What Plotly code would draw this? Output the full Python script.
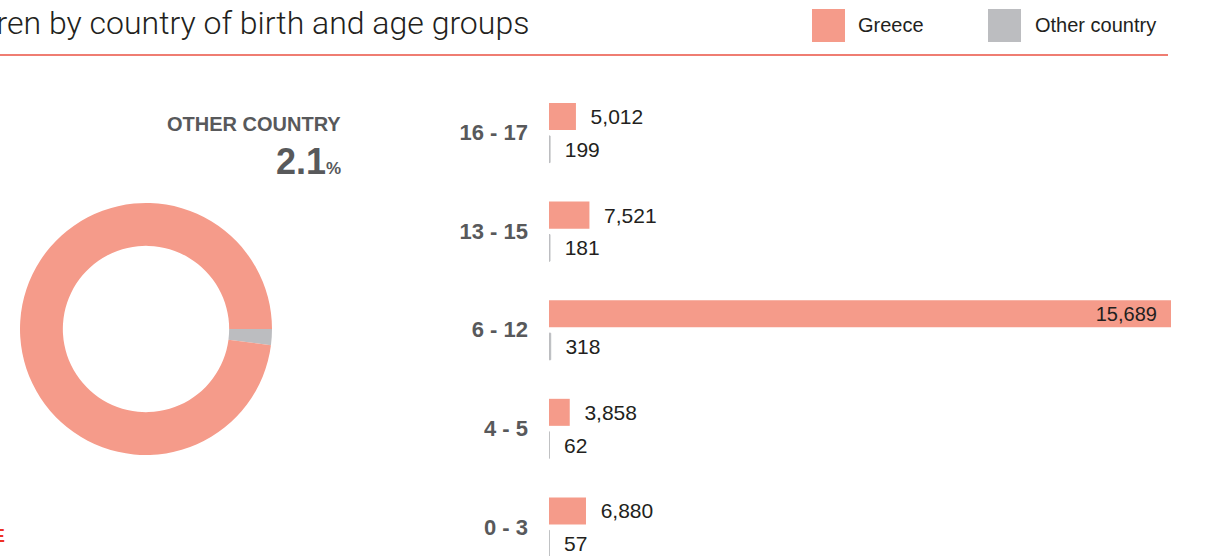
import plotly.graph_objects as go

# Data
age_groups = ["16 - 17", "13 - 15", "6 - 12", "4 - 5", "0 - 3"]
greece = [5012, 7521, 15689, 3858, 6880]
other_country = [199, 181, 318, 62, 57]

title_text = "Children by country of birth and age groups"
share_label = "OTHER COUNTRY"

SALMON = "#F59B8A"
GREY = "#BCBDC0"
DARK = "#231F20"
LABEL_GREY = "#58595B"

W, H = 1208, 556


def px(x):
    return x / W


def py(y):
    return 1 - y / H


total_greece = sum(greece)
total_other = sum(other_country)
other_share = 100 * total_other / (total_greece + total_other)

# the largest group is drawn on its own full-width scale, as in the original
imax = greece.index(max(greece))
greece_main = [v if i != imax else None for i, v in enumerate(greece)]

fig = go.Figure()

fig.add_trace(go.Pie(
    labels=["Other country", "Greece"],
    values=[total_other, total_greece],
    marker=dict(colors=[GREY, SALMON], line=dict(width=0)),
    hole=0.66,
    sort=False,
    direction="counterclockwise",
    rotation=90,
    textinfo="none",
    hoverinfo="label+value",
    domain=dict(x=[px(20), px(272)], y=[py(455), py(203)]),
    showlegend=False,
))

fig.add_trace(go.Bar(
    y=age_groups, x=greece_main, orientation="h",
    marker=dict(color=SALMON, line=dict(width=0)),
    width=0.274, offset=-0.299,
    texttemplate="\u00a0\u00a0%{x:,}", textposition="outside",
    constraintext="none", cliponaxis=False,
    textfont=dict(family="Liberation Sans, Arial", size=21, color=DARK),
    xaxis="x", yaxis="y", showlegend=False,
))

fig.add_trace(go.Bar(
    y=[age_groups[imax]], x=[greece[imax]], orientation="h",
    marker=dict(color=SALMON, line=dict(width=0)),
    width=0.274, offset=-0.299,
    texttemplate="%{x:,}\u00a0\u00a0", textposition="inside", insidetextanchor="end",
    constraintext="none", cliponaxis=False,
    textfont=dict(family="Liberation Sans, Arial", size=20, color=DARK),
    xaxis="x2", yaxis="y", showlegend=False,
))

fig.add_trace(go.Bar(
    y=age_groups, x=other_country, orientation="h",
    marker=dict(color=GREY, line=dict(width=1, color=GREY)),
    width=0.27, offset=0.035,
    texttemplate="\u00a0\u00a0%{x:,}", textposition="outside",
    constraintext="none", cliponaxis=False,
    textfont=dict(family="Liberation Sans, Arial", size=21, color=DARK),
    xaxis="x", yaxis="y", showlegend=False,
))

annotations = [
    dict(text=title_text, x=px(531), y=py(23), xanchor="right", yanchor="middle",
         font=dict(family="Roboto", size=32, weight=300, color=DARK)),
    dict(text="Greece", x=px(856), y=py(25), xanchor="left", yanchor="middle",
         font=dict(family="Liberation Sans, Arial", size=20, color=DARK)),
    dict(text="Other country", x=px(1033), y=py(25), xanchor="left", yanchor="middle",
         font=dict(family="Liberation Sans, Arial", size=20, color=DARK)),
    dict(text="<b>%s</b>" % share_label, x=px(343), y=py(124), xanchor="right", yanchor="middle",
         font=dict(family="Liberation Sans, Arial", size=20, color=LABEL_GREY)),
    dict(text="<b>%.1f<span style='font-size:17px'>%%</span></b>" % other_share,
         x=px(343), y=py(161), xanchor="right", yanchor="middle",
         font=dict(family="Liberation Sans Narrow, Liberation Sans, Arial", size=36, color=LABEL_GREY)),
    dict(text="<b>MORE</b>", x=px(7), y=py(535), xanchor="right", yanchor="middle",
         font=dict(family="Liberation Sans, Arial", size=19, color="#EE3124")),
]
for a in annotations:
    a.update(xref="paper", yref="paper", showarrow=False)

shapes = [
    dict(type="line", x0=0, x1=px(1168), y0=py(55), y1=py(55),
         line=dict(color="#EF7D72", width=2)),
    dict(type="rect", x0=px(812), x1=px(845), y0=py(42), y1=py(9),
         fillcolor=SALMON, line=dict(width=0)),
    dict(type="rect", x0=px(988), x1=px(1021), y0=py(42), y1=py(9),
         fillcolor=GREY, line=dict(width=0)),
]
for s in shapes:
    s.update(xref="paper", yref="paper")

# y axis: 16-17 centred at y=132.5px, 98.6px between groups
y_top = -0.6
y_bottom = y_top + (H - (132.5 + 98.6 * y_top)) / 98.6

fig.update_layout(
    width=W, height=H,
    margin=dict(l=0, r=0, t=0, b=0),
    paper_bgcolor="white", plot_bgcolor="white",
    barmode="overlay",
    showlegend=False,
    xaxis=dict(domain=[px(549), px(1171)], range=[0, 115700], visible=False,
               fixedrange=True),
    xaxis2=dict(domain=[px(549), px(1171)], range=[0, max(greece)], visible=False,
                overlaying="x", anchor="y", fixedrange=True),
    yaxis=dict(domain=[0, py(132.5 + 98.6 * y_top)], range=[y_bottom, y_top], type="category",
               showgrid=False, zeroline=False, showline=False, ticks="",
               ticklabelstandoff=20,
               tickfont=dict(family="Liberation Sans, Arial", size=22, color=LABEL_GREY,
                             weight="bold")),
    annotations=annotations,
    shapes=shapes,
)

# drop the page's default body margin so the chart fills the window
fig.write_html("out.html", config={"displayModeBar": False},
               post_script="document.body.style.margin='0';")
